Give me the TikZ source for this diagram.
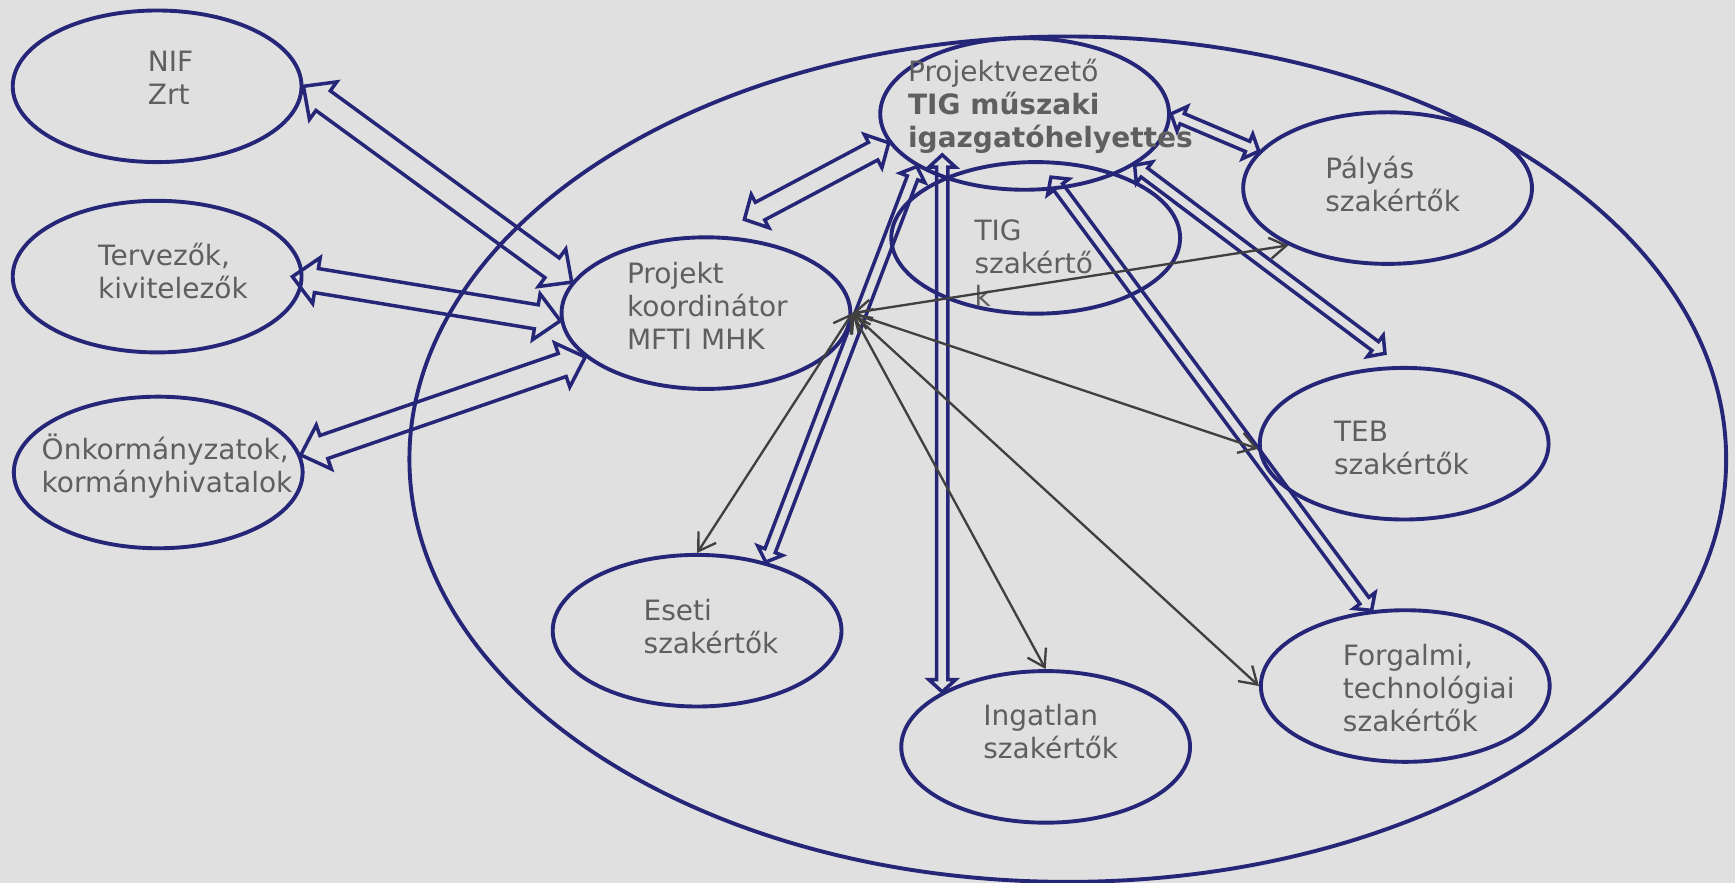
\documentclass[tikz,border=0pt]{standalone}
\usepackage{fontspec}
\setmainfont{DejaVu Sans}
\usetikzlibrary{shapes.geometric}
\usetikzlibrary{calc}
\usetikzlibrary{arrows.meta}
\definecolor{hatter}{RGB}{224,224,224}
\definecolor{kek}{RGB}{38,38,120}
\definecolor{szoveg}{RGB}{95,95,95}
\definecolor{vonal}{RGB}{64,64,64}
\tikzset{
    every node/.style={
        font=\fontsize{7.2pt}{8.5pt}\selectfont},
    buborek/.style={
        ellipse,
        draw=kek,
        line width=1pt,
        minimum width=2.61cm,
        minimum height=1.37cm,
        inner sep=0pt},
    felirat/.style={
        anchor=west,
        align=left,
        inner sep=0pt,
        text=szoveg},
    tomb/.style n args={3}{
        draw=kek,
        line width=0.9pt,
        to path={
            ($(\tikztostart)!#3!(\tikztotarget)$) coordinate (t1)
            ($(\tikztotarget)!#3!(\tikztostart)$) coordinate (t2)
            (\tikztostart) -- ($(t1)!#2!90:(\tikztotarget)$) -- ($(t1)!#1!90:(\tikztotarget)$)
            -- ($(t2)!#1!-90:(\tikztostart)$) -- ($(t2)!#2!-90:(\tikztostart)$)
            -- (\tikztotarget)
            -- ($(t2)!#2!90:(\tikztostart)$) -- ($(t2)!#1!90:(\tikztostart)$)
            -- ($(t1)!#1!-90:(\tikztotarget)$) -- ($(t1)!#2!-90:(\tikztotarget)$)
            -- cycle}},
    nagy/.style={tomb={0.11cm}{0.21cm}{0.22cm}},
    kozep/.style={tomb={0.09cm}{0.17cm}{0.16cm}},
    kicsi/.style={tomb={0.05cm}{0.12cm}{0.11cm}},
    vekony/.style={
        draw=vonal,
        line width=0.6pt,
        {Straight Barb[length=1.5mm,width=1.9mm]}-{Straight Barb[length=1.5mm,width=1.9mm]}}}

\begin{document}
\begin{tikzpicture}
    \path[fill=hatter, use as bounding box] (0,0) rectangle (15.68,-7.98);

    \node[buborek, minimum width=11.9cm, minimum height=7.64cm] (kor) at (9.65,-4.15) {};

    \node[buborek] (nif) at (1.42,-0.78) {};
    \node[buborek] (ter) at (1.42,-2.50) {};
    \node[buborek] (onk) at (1.43,-4.27) {};
    \node[buborek] (proj) at (6.38,-2.83) {};
    \node[buborek] (pv) at (9.26,-1.03) {};
    \node[buborek] (tig) at (9.36,-2.15) {};
    \node[buborek] (pal) at (12.54,-1.70) {};
    \node[buborek] (teb) at (12.69,-4.01) {};
    \node[buborek] (es) at (6.30,-5.70) {};
    \node[buborek] (ing) at (9.45,-6.75) {};
    \node[buborek] (forg) at (12.70,-6.20) {};

    \node[felirat] (nif-t) at (1.33,-0.70) {NIF\\Zrt};
    \node[felirat] (ter-t) at (0.88,-2.445) {Tervezők,\\kivitelezők};
    \node[felirat] (onk-t) at (0.37,-4.21) {Önkormányzatok,\\kormányhivatalok};
    \node[felirat] (proj-t) at (5.66,-2.765) {Projekt\\koordinátor\\MFTI MHK};
    \node[felirat] (pv-t) at (8.20,-0.96) {Projektvezető\\\textbf{TIG műszaki}\\\textbf{igazgatóhelyettes}};
    \node[felirat] (tig-t) at (8.80,-2.375) {TIG\\szakértő\\k};
    \node[felirat] (pal-t) at (11.97,-1.66) {Pályás\\szakértők};
    \node[felirat] (teb-t) at (12.05,-4.05) {TEB\\szakértők};
    \node[felirat] (es-t) at (5.81,-5.665) {Eseti\\szakértők};
    \node[felirat] (ing-t) at (8.88,-6.61) {Ingatlan\\szakértők};
    \node[felirat] (forg-t) at (12.13,-6.215) {Forgalmi,\\technológiai\\szakértők};

    \draw[nagy] (nif.east) to (proj.167);
    \draw[nagy] ([xshift=-1mm]ter.east) to (proj.183);
    \draw[nagy] (onk.7) to (proj.200);
    \draw[kozep] ([shift={(0.07,0.16)}]proj.68) to (pv.192);
    \draw[kicsi] (pv.206) to (es.45);
    \draw[kicsi] ([yshift=-0.37cm]ing.152 |- pv.center) to (ing.152);
    \draw[kicsi] ([yshift=0.12cm]pv.-71) to (forg.114);
    \draw[kicsi] (pv.-25) to ([yshift=0.12cm]teb.104);
    \draw[kicsi] (pv.east) to (pal.164);

    \draw[vekony] (proj.east) -- (es.north);
    \draw[vekony] (proj.east) -- (ing.north);
    \draw[vekony] (proj.east) -- (forg.west);
    \draw[vekony] (proj.east) -- (teb.182);
    \draw[vekony] (proj.east) -- (pal.210);
\end{tikzpicture}
\end{document}
